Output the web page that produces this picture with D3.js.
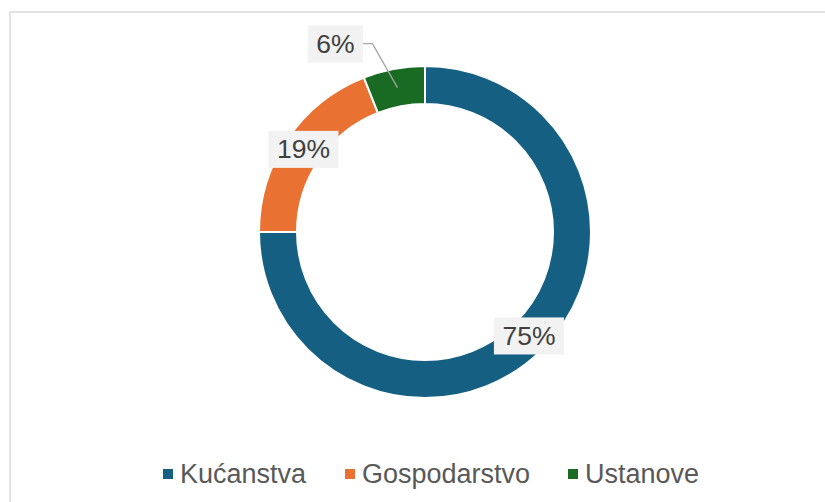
<!DOCTYPE html>
<html lang="hr">
<head>
<meta charset="UTF-8">
<title>Donut</title>
<script src="https://d3js.org/d3.v7.min.js"></script>
<style>
  body { margin: 0; background: #fff; }
  svg text { font-family: "Liberation Sans", Arial, sans-serif; }
</style>
</head>
<body>
<div id="chart"></div>
<script>
const categories = ["Kućanstva", "Gospodarstvo", "Ustanove"];
const values = [75, 19, 6];
const labels = ["75%", "19%", "6%"];
const colors = ["#156082", "#E97132", "#196B24"];

const w = 825, h = 502;
const cx = 425, cy = 232;
const outerR = 166, innerR = 128;

const svg = d3.select("#chart").append("svg")
  .attr("width", w).attr("height", h);

// chart frame (runs off the right/bottom of the window)
svg.append("rect")
  .attr("x", 10).attr("y", 12)
  .attr("width", 900).attr("height", 600)
  .attr("fill", "#fff")
  .attr("stroke", "#d9d9d9").attr("stroke-width", 1.5);

const data = categories.map((c, i) => ({ name: c, value: values[i], label: labels[i], color: colors[i] }));

const pie = d3.pie().value(d => d.value).sort(null);
const arc = d3.arc().innerRadius(innerR).outerRadius(outerR);
const arcs = pie(data);

const g = svg.append("g").attr("transform", `translate(${cx},${cy})`);

g.selectAll("path.slice")
  .data(arcs)
  .enter().append("path")
  .attr("class", "slice")
  .attr("d", arc)
  .attr("fill", d => d.data.color)
  .attr("stroke", "#fff")
  .attr("stroke-width", 2);

function addLabel(x, y, text) {
  const t = g.append("text")
    .attr("x", x).attr("y", y)
    .attr("text-anchor", "middle")
    .attr("dominant-baseline", "central")
    .attr("font-size", 26.5)
    .attr("fill", "#404040")
    .text(text);
  const bb = t.node().getBBox();
  g.insert("rect", () => t.node())
    .attr("x", bb.x - 8.5).attr("y", y - 18.5)
    .attr("width", bb.width + 17).attr("height", 37)
    .attr("fill", "#f2f2f2");
}

arcs.forEach((d, i) => {
  const [x, y] = arc.centroid(d);
  if (i < 2) {
    addLabel(x, y, d.data.label);
  } else {
    // small slice: label outside with leader line
    const ex = x - 25, ey = y - 44;
    g.append("polyline")
      .attr("points", [[x, y], [ex, ey], [ex - 10, ey]].map(p => p.join(",")).join(" "))
      .attr("fill", "none")
      .attr("stroke", "#a6a6a6")
      .attr("stroke-width", 1.3);
    addLabel(ex - 10 - 27, ey + 0.5, d.data.label);
  }
});

// legend
const legend = svg.append("g");
const legendX = [163, 345, 568];
data.forEach((d, i) => {
  legend.append("rect")
    .attr("x", legendX[i]).attr("y", 469)
    .attr("width", 10).attr("height", 10)
    .attr("fill", d.color);
  legend.append("text")
    .attr("x", legendX[i] + 17).attr("y", 483)
    .attr("font-size", 27)
    .attr("fill", "#595959")
    .text(d.name);
});
</script>
</body>
</html>
